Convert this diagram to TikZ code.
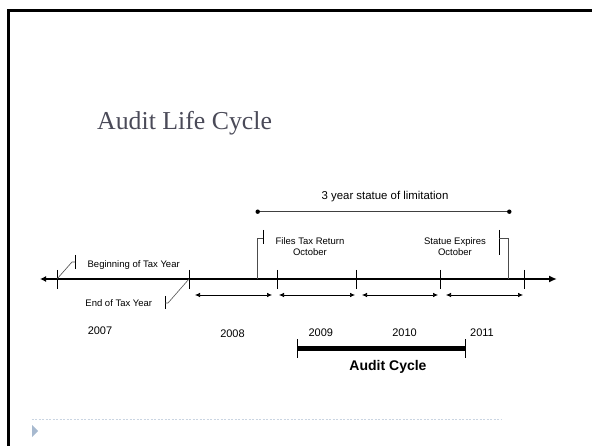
\documentclass[tikz,border=0pt]{standalone}
\usepackage{fontspec}
\setmainfont{Liberation Sans}
\newfontfamily\titlefont{Liberation Serif}
\usetikzlibrary{arrows.meta, positioning}

\definecolor{titlegray}{HTML}{4A4A58}
\definecolor{footblue}{HTML}{A7B9CF}

\tikzset{
    timeline/.style={line width=2.4pt, {Latex[length=6pt,width=6pt]}-{Latex[length=8pt,width=7pt]}},
    yeartick/.style={line width=1pt},
    yearspan/.style={line width=0.7pt, {Latex[length=5pt,width=4.5pt]}-{Latex[length=5pt,width=4.5pt]}},
    calloutbar/.style={line width=0.9pt},
    leader/.style={line width=0.6pt, black!70},
    calltext/.style={font=\fontsize{9.5}{11}\selectfont, inner sep=1pt},
    yearlabel/.style={font=\fontsize{11}{13}\selectfont, inner sep=1pt}
}

\begin{document}
\begin{tikzpicture}[x=1pt, y=-1pt]
    \useasboundingbox (0,0) rectangle (592,446);

    % slide frame and title
    \draw[line width=3pt] (8,446) -- (8,11) -- (592,11);
    \node[anchor=base west, inner sep=0, text=titlegray,
          font=\titlefont\fontsize{25.8}{30}\selectfont] (title) at (97,130) {Audit Life Cycle};

    % main time line with year boundaries
    \coordinate (tl-w) at (40,279);
    \coordinate (tl-e) at (557,279);
    \draw[timeline] (tl-w) -- (tl-e);
    \foreach \x [count=\i from 0] in {57,189,277,356,440,524} {
        \coordinate (y\i) at (\x,279);
        \draw[yeartick] (\x,270) -- (\x,289);
    }
    \foreach \a/\b in {195/272, 279/355, 362/438, 446/523}
        \draw[yearspan] (\a,295) -- (\b,295);

    % years
    \foreach \px/\py/\yr in {100/331/2007, 232.5/333.3/2008, 320.8/332.7/2009, 404.5/333/2010, 482/333/2011}
        \node[yearlabel] (yr\yr) at (\px,\py) {\yr};

    % callouts
    \node[calltext] (begin) at (133.7,265) {Beginning of Tax Year};
    \draw[calloutbar] (75,255) -- (75,269);
    \draw[leader] (y0) -- (72,262) -- (75,262);

    \node[calltext] (endyr) at (118.8,303) {End of Tax Year};
    \draw[calloutbar] (165,296) -- (165,309);
    \draw[leader] (165,303) -- (168,303) -- (y1);

    \coordinate (file-pt) at (257.5,279);
    \node[calltext, align=center] (files) at (310,247) {Files Tax Return\\October};
    \draw[calloutbar] (263.3,230) -- (263.3,244.3);
    \draw[leader] (263.3,238.3) -- (257.5,238.3) -- (file-pt);

    \coordinate (exp-pt) at (508.3,279);
    \node[calltext, align=center] (expires) at (455,247) {Statue Expires\\October};
    \draw[calloutbar] (499.3,230) -- (499.3,255);
    \draw[leader] (499.3,238.3) -- (508.3,238.3) -- (exp-pt);

    % statute of limitation
    \coordinate (lim-a) at (257.7,211.7);
    \coordinate (lim-b) at (509.3,211.7);
    \draw[line width=0.7pt, black!75] (lim-a) -- (lim-b);
    \fill (lim-a) circle (2.2);
    \fill (lim-b) circle (2.2);
    \node[font=\fontsize{11.4}{13}\selectfont] (limit) at (385,197) {3 year statue of limitation};

    % audit cycle
    \coordinate (ac-w) at (297.3,348.3);
    \coordinate (ac-e) at (465.7,348.3);
    \draw[line width=5pt] (ac-w) -- (ac-e);
    \draw[line width=0.8pt] (297.3,339.3) -- (297.3,358.3);
    \draw[line width=0.8pt] (465.7,339.3) -- (465.7,358.3);
    \node[font=\bfseries\fontsize{14}{16}\selectfont] (audit) at (388,366.5) {Audit Cycle};

    % footer
    \draw[footblue!60, line width=0.6pt, dash pattern=on 2pt off 1.5pt] (31.7,419.3) -- (501.7,419.3);
    \fill[footblue] (32,425) -- (38,431) -- (32,437) -- cycle;
\end{tikzpicture}
\end{document}
